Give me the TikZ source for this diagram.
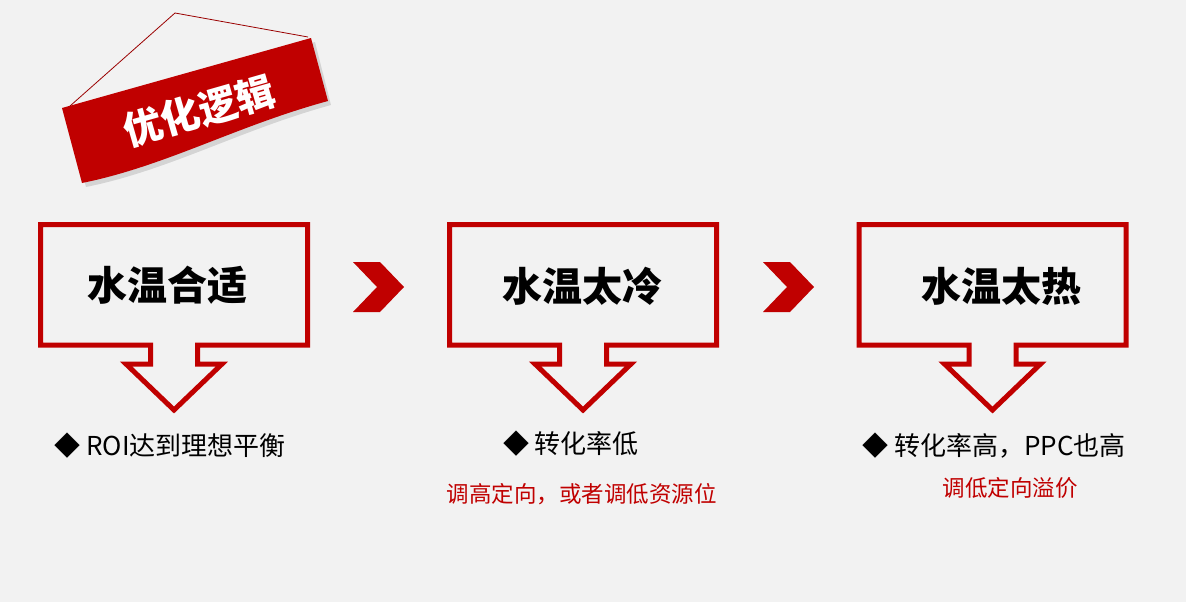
\documentclass[tikz,border=0pt]{standalone}
\usepackage{fontspec}
\setmainfont{Noto Sans CJK SC}
\newfontfamily\heavyfont{Noto Sans CJK SC Black}
\definecolor{bannerred}{HTML}{C00000}
\definecolor{pagegray}{HTML}{F2F2F2}
\begin{document}
\begin{tikzpicture}[x=1pt,y=-1pt,
    callout/.style={draw=bannerred,line width=5pt,miter limit=10},
    chevron/.style={fill=bannerred},
    title/.style={font=\bfseries\fontsize{40}{40}\selectfont,inner sep=0pt},
    note/.style={font=\fontsize{26}{26}\selectfont,inner sep=0pt},
    advice/.style={font=\fontsize{22.5}{22.5}\selectfont,text=bannerred,inner sep=0pt}]
  \fill[pagegray] (0,0) rectangle (1186,602);
  \useasboundingbox (0,0) rectangle (1186,602);
  % banner
  \fill[black,opacity=0.12] (66,112) -- (315,42) -- (331,105)
    .. controls (240,130) and (170,170) .. (86,187) -- cycle;
  \fill[bannerred] (62,108) -- (311,38) -- (328,101)
    .. controls (236,126) and (166,166) .. (82,183) -- cycle;
  \draw[bannerred!80!black,line width=0.8pt] (70,106) -- (175,13) -- (308,37);
  \node[font=\heavyfont\fontsize{39}{39}\selectfont,text=white,rotate=16,inner sep=0pt] (banner) at (199,111) {优化逻辑};
  % callouts
  \foreach \cx in {174,583,992.5}
    \draw[callout] (\cx-133.5,224.5) -- (\cx+133.5,224.5) -- (\cx+133.5,345)
      -- (\cx+23.5,345) -- (\cx+23.5,364) -- (\cx+48,364) -- (\cx,410)
      -- (\cx-48,364) -- (\cx-23.5,364) -- (\cx-23.5,345)
      -- (\cx-133.5,345) -- cycle;
  \draw
    (167.5,285) node[title] (fit){水温合适}
    (582.5,286) node[title] (cold){水温太冷}
    (1001.5,286) node[title] (hot){水温太热};
  % chevrons
  \foreach \dx in {0,410}
    \fill[chevron] (353+\dx,262) -- (380+\dx,262) -- (404+\dx,287)
      -- (380+\dx,312) -- (353+\dx,312) -- (377+\dx,287) -- cycle;
  % notes
  \draw
    (170,446) node[note] (fitnote){◆ ROI达到理想平衡}
    (571,444) node[note] (coldnote){◆ 转化率低}
    (994,446) node[note] (hotnote){◆ 转化率高，PPC也高}
    (581.5,494) node[advice] (coldfix){调高定向，或者调低资源位}
    (1010,488) node[advice] (hotfix){调低定向溢价};
\end{tikzpicture}
\end{document}
